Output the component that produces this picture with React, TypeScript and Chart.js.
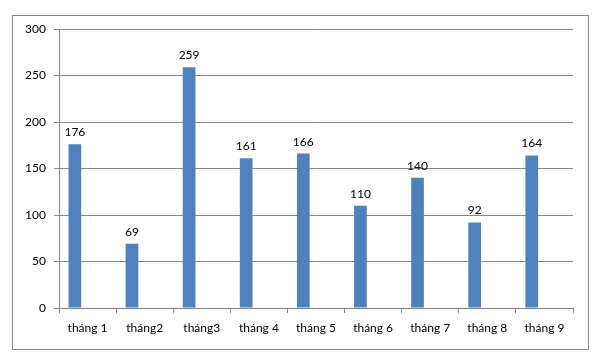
import React, { useEffect, useRef } from "react";
import { Chart, registerables } from "chart.js";

Chart.register(...registerables);

const categories = ["tháng 1", "tháng2", "tháng3", "tháng 4", "tháng 5", "tháng 6", "tháng 7", "tháng 8", "tháng 9"];
const values = [176, 69, 259, 161, 166, 110, 140, 92, 164];
const emptySeries = [null, null, null, null, null, null, null, null, null];
const yMin = 0;
const yMax = 300;
const yStep = 50;

const FONT = "Lato, 'Open Sans', sans-serif";
const GRAY = "#868686";

const framePlugin = {
  id: "frame",
  beforeDraw(chart: any) {
    const ctx = chart.ctx;
    ctx.save();
    ctx.fillStyle = "#ffffff";
    ctx.fillRect(0, 0, chart.width, chart.height);
    ctx.strokeStyle = GRAY;
    ctx.lineWidth = 1;
    ctx.strokeRect(12.5, 15.5, 576, 334);
    ctx.restore();
  },
};

const valueLabelPlugin = {
  id: "valueLabels",
  afterDatasetsDraw(chart: any) {
    const ctx = chart.ctx;
    const meta = chart.getDatasetMeta(0);
    const ds = chart.data.datasets[0];
    ctx.save();
    ctx.fillStyle = "#000000";
    ctx.font = `12px ${FONT}`;
    ctx.textAlign = "center";
    ctx.textBaseline = "alphabetic";
    meta.data.forEach((el: any, i: number) => {
      const v = ds.data[i];
      if (v == null) return;
      ctx.fillText(String(v), el.x, el.y - 8);
    });
    ctx.restore();
  },
};

export default function App() {
  const ref = useRef<HTMLCanvasElement>(null);
  useEffect(() => {
    const chart = new Chart(ref.current!, {
      type: "bar",
      data: {
        labels: categories,
        datasets: [
          { data: values, backgroundColor: "#4F81BD", borderWidth: 0 },
          { data: emptySeries as any, backgroundColor: "#C0504D" },
          { data: emptySeries as any, backgroundColor: "#9BBB59" },
        ],
      },
      options: {
        responsive: false,
        animation: false,
        devicePixelRatio: 1,
        layout: { padding: { top: 29, right: 23, left: 0, bottom: 0 } },
        datasets: { bar: { categoryPercentage: 0.667, barPercentage: 1 } },
        plugins: { legend: { display: false }, tooltip: { enabled: false } },
        scales: {
          x: {
            grid: { drawOnChartArea: false, drawTicks: true, tickLength: 5, color: GRAY, offset: true },
            border: { color: GRAY },
            ticks: { color: "#000", font: { family: FONT, size: 12 }, padding: 8, maxRotation: 0, autoSkip: false },
            afterFit: (s: any) => { s.height = 55; },
          },
          y: {
            min: yMin,
            max: yMax,
            grid: { color: GRAY, tickLength: 5 },
            border: { color: GRAY },
            ticks: { stepSize: yStep, color: "#000", font: { family: FONT, size: 12 }, padding: 8 },
            afterFit: (s: any) => { s.width = 59; },
          },
        },
      },
      plugins: [framePlugin, valueLabelPlugin],
    });
    return () => chart.destroy();
  }, []);
  return (
    <div style={{ position: "fixed", left: 0, top: 0, width: 596, height: 363, background: "#fff" }}>
      <canvas ref={ref} width={596} height={363} style={{ display: "block" }} />
    </div>
  );
}
